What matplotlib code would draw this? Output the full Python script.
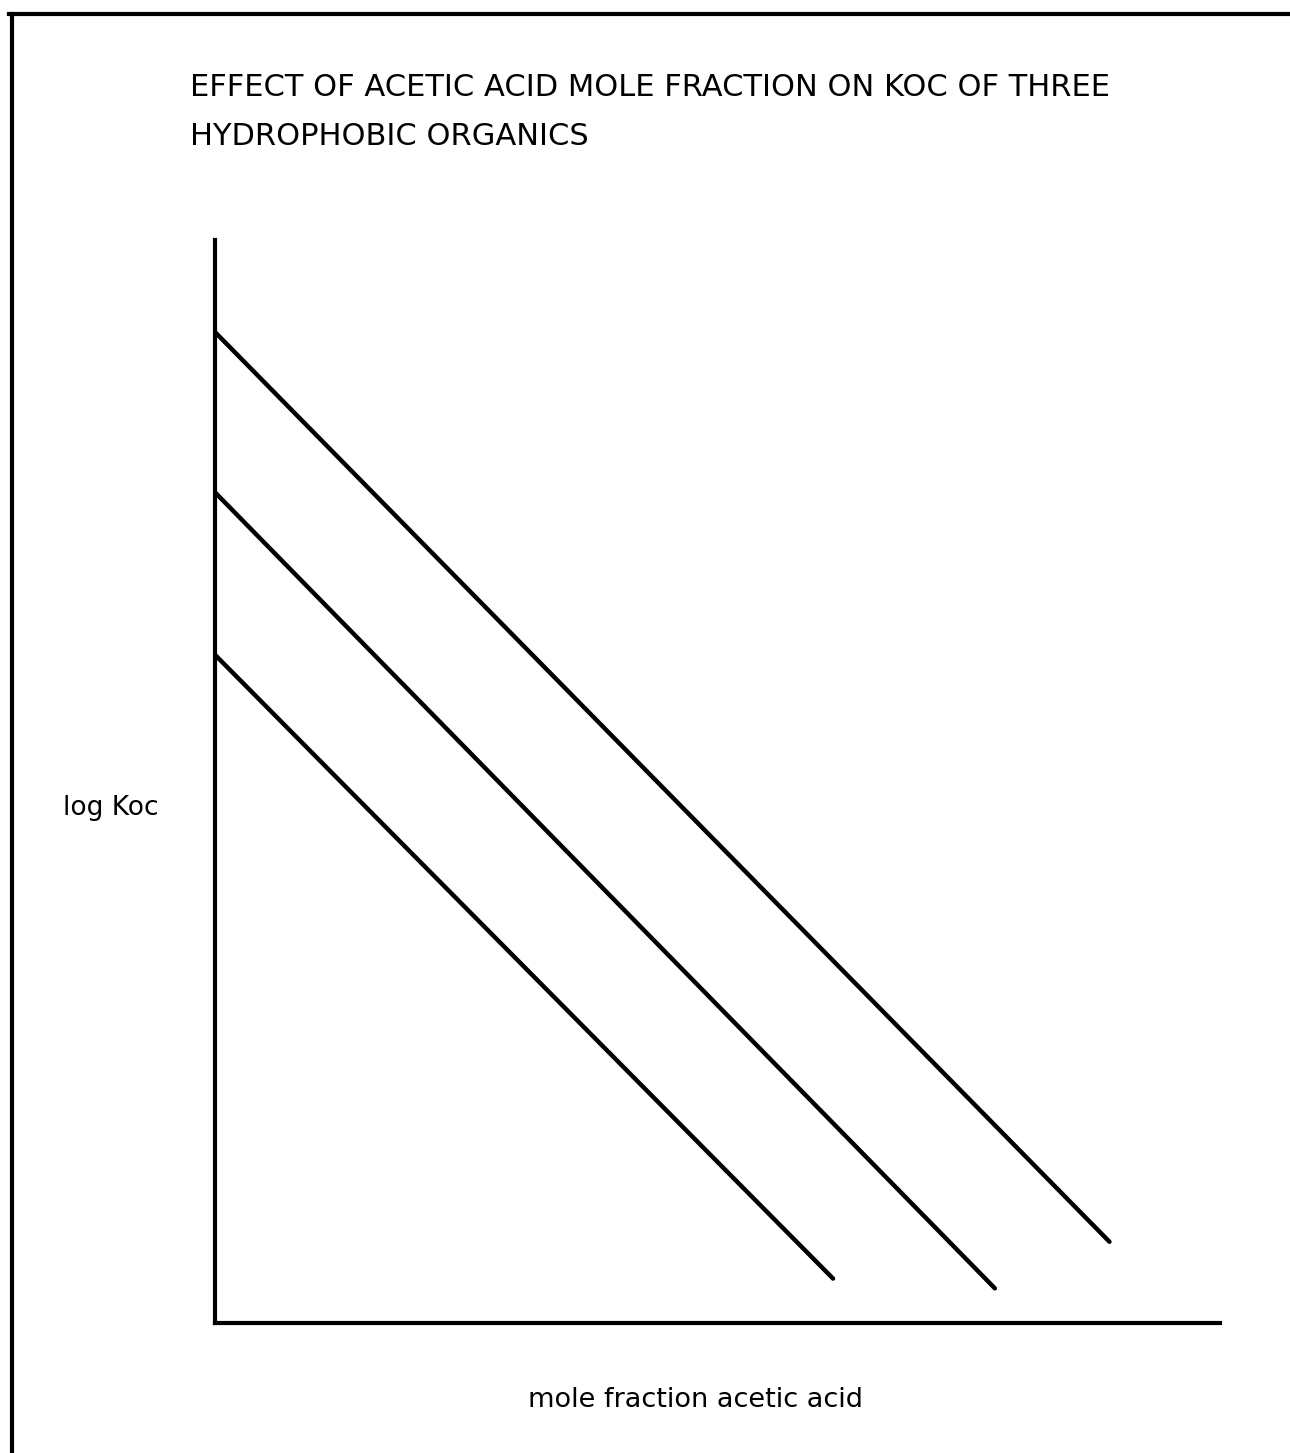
import matplotlib
matplotlib.use('Agg')
import matplotlib.pyplot as plt
from matplotlib.lines import Line2D

# fracao molar de acido acetico (inicio e fim de cada reta) e log Koc relativo
x_start = [0.0, 0.0, 0.0]
x_end = [0.89, 0.776, 0.615]
logkoc_start = [0.915, 0.767, 0.617]
logkoc_end = [0.075, 0.032, 0.041]

title = "EFFECT OF ACETIC ACID MOLE FRACTION ON KOC OF THREE\nHYDROPHOBIC ORGANICS"
xlabel = "mole fraction acetic acid"
ylabel = "log Koc"

plt.rcParams['font.family'] = ['DejaVu Sans']

fig = plt.figure(figsize=(12.9, 14.53), dpi=100)
W, H = 1290.0, 1453.0

ax = fig.add_axes([215 / W, 1 - 1323 / H, 1005 / W, 1083 / H])
for x0, x1, y0, y1 in zip(x_start, x_end, logkoc_start, logkoc_end):
    ax.plot([x0, x1], [y0, y1], color='black', lw=3.2, solid_capstyle='round')

ax.set_xlim(0, 1)
ax.set_ylim(0, 1)
ax.set_xticks([])
ax.set_yticks([])
for s in ['top', 'right']:
    ax.spines[s].set_visible(False)
for s in ['left', 'bottom']:
    ax.spines[s].set_linewidth(3)
    ax.spines[s].set_capstyle('projecting')

# moldura da pagina (cortada a direita e embaixo)
fig.add_artist(Line2D([9 / W, 1.0], [1 - 14 / H, 1 - 14 / H], color='black', lw=3,
                      transform=fig.transFigure))
fig.add_artist(Line2D([12 / W, 12 / W], [0.0, 1 - 14 / H], color='black', lw=3,
                      transform=fig.transFigure))

fig.text(190 / W, 1 - 73 / H, title, ha='left', va='top', fontsize=22,
         linespacing=1.85)
fig.text(63 / W, 1 - 808 / H, ylabel, ha='left', va='center', fontsize=19)
fig.text(695 / W, 1 - 1400 / H, xlabel, ha='center', va='center', fontsize=19.5)

fig.savefig('out.png', dpi=100)
